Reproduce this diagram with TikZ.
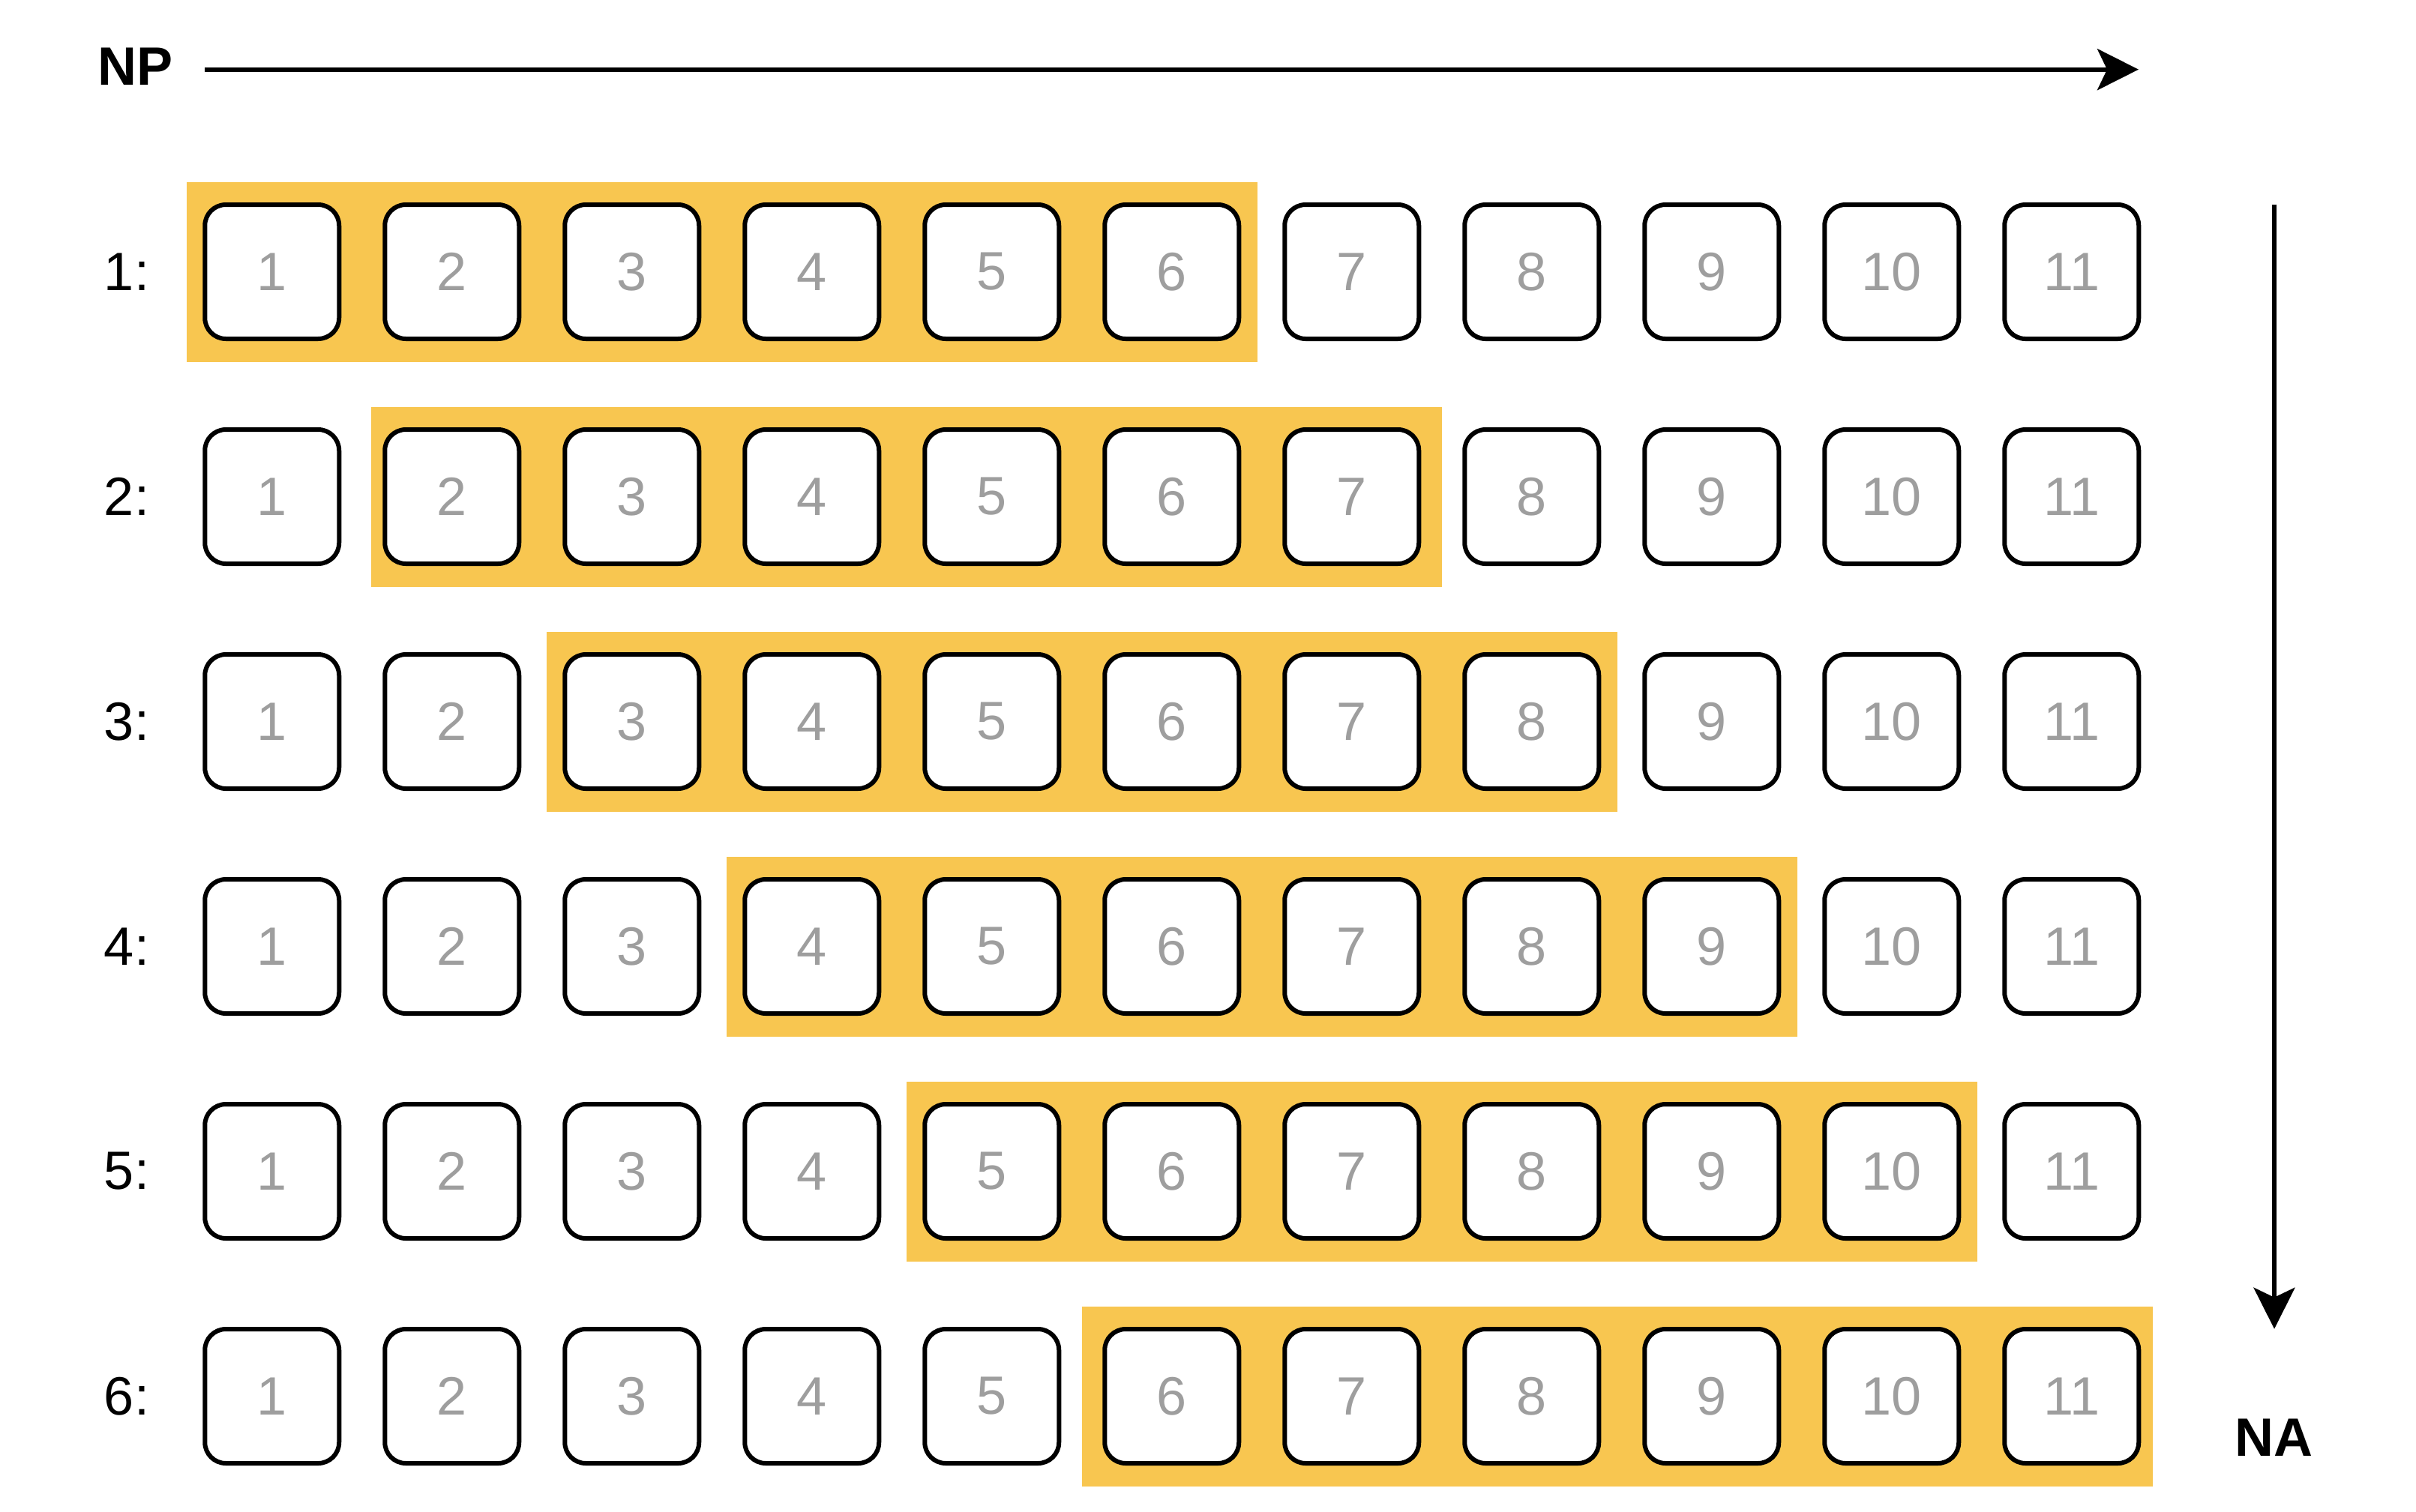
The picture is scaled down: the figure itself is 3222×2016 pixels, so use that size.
\documentclass[tikz,border=0pt]{standalone}
\usepackage{fontspec}
\setmainfont{Liberation Sans}
\usetikzlibrary{arrows.meta}
\definecolor{winyellow}{HTML}{F8C650}
\definecolor{cellgray}{HTML}{9E9E9E}

\begin{document}
\begin{tikzpicture}[x=1pt, y=-1pt, cell/.style={draw, line width=6pt, rounded corners=28pt, fill=white, minimum size=179pt, inner sep=0pt, text=cellgray, font=\fontsize{72}{80}\selectfont}, lbl/.style={inner sep=0pt, font=\fontsize{72}{80}\selectfont}, axis/.style={line width=6pt, -{Stealth[length=55pt, width=55pt, inset=13pt]}}]
\useasboundingbox (0,0) rectangle (3222,2016);
% sliding windows
\foreach \r/\xl in {1/249,2/495,3/729,4/969,5/1209,6/1443}
  \fill[winyellow] (\xl,{243+300*(\r-1)}) rectangle ++(1428,240);
% rows of cells
\foreach \r in {1,...,6} {
  \node[lbl] (row\r) at (169,{362.5+300*(\r-1)}) {\r:};
  \foreach \c in {1,...,11}
    \node[cell] (c\r-\c) at ({362.75+240*(\c-1)},{362.5+300*(\r-1)}) {\c};
}
% axes
\node[lbl, font=\fontsize{72}{80}\selectfont\bfseries] (np) at (180.5,88.5) {NP};
\node[lbl, font=\fontsize{72}{80}\selectfont\bfseries] (na) at (3032,1918) {NA};
\coordinate (npa) at (273,92.7); \coordinate (npb) at (2852,92.7);
\coordinate (naa) at (3033,272.7); \coordinate (nab) at (3033,1772.7);
\draw[axis] (npa) -- (npb); \draw[axis] (naa) -- (nab);
\end{tikzpicture}
\end{document}
